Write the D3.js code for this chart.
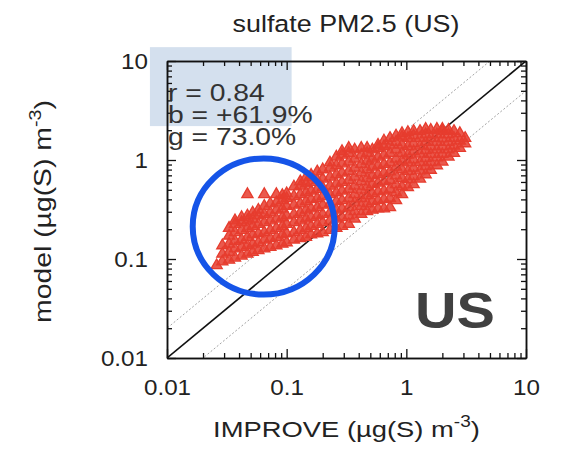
<!DOCTYPE html>
<html><head><meta charset="utf-8">
<script src="https://cdn.jsdelivr.net/npm/d3@7"></script>
<style>
body{margin:0;background:#fff}
text{font-family:"Liberation Sans",Arial,Helvetica,sans-serif}
</style>
</head><body>
<svg id="chart" width="564" height="450"></svg>
<script>
// ---------------- data ----------------
const titleText = "sulfate PM2.5 (US)";
const regionLabel = "US";
const statLabels = ["r = 0.84", "b = +61.9%", "g = 73.0%"];
const axisTicks = [0.01, 0.1, 1, 10];
const axisTickLabels = ["0.01", "0.1", "1", "10"];
// observed (IMPROVE) values, one per column of the cloud
const obsX = [0.026,0.029,0.033,0.037,0.042,0.047,0.052,0.058,0.065,0.073,0.082,0.092,0.10,0.115,0.13,0.145,0.16,0.18,0.2,0.23,0.26,0.29,0.33,0.37,0.42,0.47,0.52,0.58,0.65,0.73,0.82,0.92,1.03,1.15,1.3,1.45,1.6,1.8,2.0,2.25,2.5,2.8,3.1];
// model values found at each observed value
const modelY = [
 [0.088],
 [0.096,0.115,0.14],
 [0.1,0.12,0.145,0.175,0.21],
 [0.105,0.13,0.155,0.19,0.23,0.25],
 [0.11,0.135,0.16,0.2,0.24,0.27],
 [0.115,0.14,0.17,0.21,0.25,0.28,0.46],
 [0.12,0.145,0.18,0.22,0.26,0.3],
 [0.125,0.15,0.185,0.23,0.28,0.32],
 [0.13,0.16,0.19,0.24,0.29,0.35,0.46],
 [0.135,0.165,0.2,0.25,0.3,0.37],
 [0.14,0.17,0.21,0.26,0.32,0.38,0.46],
 [0.145,0.18,0.22,0.27,0.33,0.4,0.45],
 [0.15,0.185,0.23,0.28,0.35,0.42,0.47],
 [0.16,0.19,0.24,0.29,0.36,0.44,0.55],
 [0.165,0.2,0.25,0.3,0.37,0.46,0.56,0.62],
 [0.17,0.21,0.26,0.32,0.39,0.48,0.59,0.68],
 [0.18,0.22,0.27,0.33,0.41,0.5,0.61,0.72],
 [0.185,0.23,0.28,0.34,0.42,0.52,0.64,0.78],
 [0.19,0.24,0.29,0.36,0.44,0.54,0.66,0.82],
 [0.2,0.25,0.3,0.37,0.46,0.56,0.69,0.85,0.96],
 [0.21,0.26,0.32,0.39,0.48,0.59,0.73,0.9,1.1],
 [0.22,0.27,0.33,0.4,0.5,0.61,0.76,0.94,1.15,1.25],
 [0.23,0.28,0.34,0.42,0.52,0.64,0.79,0.98,1.2,1.35],
 [0.26,0.31,0.38,0.46,0.56,0.69,0.85,1.05,1.3],
 [0.29,0.35,0.42,0.51,0.62,0.76,0.93,1.15,1.35],
 [0.31,0.37,0.45,0.55,0.67,0.82,1.0,1.2,1.35],
 [0.32,0.39,0.47,0.58,0.71,0.87,1.05,1.3],
 [0.33,0.4,0.49,0.6,0.73,0.9,1.1,1.35,1.45],
 [0.33,0.41,0.5,0.62,0.76,0.93,1.15,1.4,1.6],
 [0.34,0.42,0.52,0.64,0.78,0.96,1.2,1.45,1.7],
 [0.4,0.48,0.58,0.71,0.87,1.05,1.3,1.55,1.8],
 [0.46,0.55,0.67,0.82,1.0,1.2,1.45,1.75,1.9],
 [0.54,0.65,0.79,0.96,1.15,1.4,1.7,1.95],
 [0.58,0.7,0.85,1.03,1.25,1.5,1.8,2.0],
 [0.66,0.8,0.97,1.18,1.42,1.7,2.0],
 [0.73,0.88,1.06,1.28,1.55,1.85,2.1],
 [0.81,0.97,1.17,1.4,1.7,2.05],
 [0.9,1.08,1.3,1.55,1.85,2.1],
 [0.98,1.17,1.4,1.68,2.0,2.1],
 [1.1,1.3,1.55,1.85,2.05],
 [1.2,1.42,1.7,2.0],
 [1.35,1.6,1.9],
 [1.5,1.7]
];
// reference lines: ratio model/obs
const refRatios = [1, 2, 0.5];

// ---------------- layout ----------------
const L = 167, R = 526, T = 61, B = 358;
const svg = d3.select("#chart");
const x = d3.scaleLog().domain([0.01, 10]).range([L, R]);
const y = d3.scaleLog().domain([0.01, 10]).range([B, T]);
const red = "#e63c2e";

svg.append("defs").append("clipPath").attr("id", "clip")
  .append("rect").attr("x", L).attr("y", T).attr("width", R - L).attr("height", B - T);

// highlight box behind statistics (data units: x 0.0072-0.11, y 2.2-13.8)
svg.append("rect")
  .attr("x", x(0.0072)).attr("y", y(13.8))
  .attr("width", x(0.11) - x(0.0072)).attr("height", y(2.2) - y(13.8))
  .attr("fill", "#d4e0ee");

const plot = svg.append("g").attr("clip-path", "url(#clip)");
// reference lines
refRatios.forEach(r => {
  plot.append("line")
    .attr("x1", x(0.001)).attr("y1", y(0.001 * r))
    .attr("x2", x(100)).attr("y2", y(100 * r))
    .attr("stroke", r === 1 ? "#111" : "#999")
    .attr("stroke-width", r === 1 ? 1.6 : 0.9)
    .attr("stroke-dasharray", r === 1 ? null : "2,2");
});

// points
const points = obsX.flatMap((xv, i) => modelY[i].map(yv => ({x: xv, y: yv})));
plot.selectAll("path.pt").data(points).join("path")
  .attr("class", "pt")
  .attr("d", "M0,-5.5L5.6,4.2L-5.6,4.2Z")
  .attr("transform", d => `translate(${x(d.x)},${y(d.y)})`)
  .attr("fill", red).attr("fill-opacity", 0.85)
  .attr("stroke", red).attr("stroke-width", 1.3);

// axes
const allTicks = x.ticks();
const minor = allTicks.filter(v => !axisTicks.some(m => Math.abs(m - v) / m < 1e-6));
const fmt = (d) => axisTickLabels[axisTicks.findIndex(m => Math.abs(m - d) / m < 1e-6)];
function axisStyle(g) {
  g.select(".domain").attr("stroke", "#111").attr("stroke-width", 1.5);
  g.selectAll(".tick line").attr("stroke", "#111").attr("stroke-width", 1.3);
  g.selectAll("text").attr("font-size", 22).attr("fill", "#222")
    .style("font-family", '"Liberation Sans",Arial,sans-serif');
}
const gB = svg.append("g").attr("transform", `translate(0,${B})`)
  .call(d3.axisBottom(x).tickValues(axisTicks).tickSize(-9).tickSizeOuter(0).tickPadding(21).tickFormat(fmt)).call(axisStyle);
svg.append("g").attr("transform", `translate(0,${B})`)
  .call(d3.axisBottom(x).tickValues(minor).tickSize(-5).tickSizeOuter(0).tickFormat("")).call(axisStyle);
svg.append("g").attr("transform", `translate(0,${T})`)
  .call(d3.axisTop(x).tickValues(axisTicks).tickSize(-9).tickSizeOuter(0).tickFormat("")).call(axisStyle);
svg.append("g").attr("transform", `translate(0,${T})`)
  .call(d3.axisTop(x).tickValues(minor).tickSize(-5).tickSizeOuter(0).tickFormat("")).call(axisStyle);
const gL = svg.append("g").attr("transform", `translate(${L},0)`)
  .call(d3.axisLeft(y).tickValues(axisTicks).tickSize(-9).tickSizeOuter(0).tickPadding(19).tickFormat(fmt)).call(axisStyle);
svg.append("g").attr("transform", `translate(${L},0)`)
  .call(d3.axisLeft(y).tickValues(minor).tickSize(-5).tickSizeOuter(0).tickFormat("")).call(axisStyle);
svg.append("g").attr("transform", `translate(${R},0)`)
  .call(d3.axisRight(y).tickValues(axisTicks).tickSize(-9).tickSizeOuter(0).tickFormat("")).call(axisStyle);
svg.append("g").attr("transform", `translate(${R},0)`)
  .call(d3.axisRight(y).tickValues(minor).tickSize(-5).tickSizeOuter(0).tickFormat("")).call(axisStyle);

// widen tick labels a little
[gB, gL].forEach(g => g.selectAll(".tick text").each(function () {
  const w = this.getComputedTextLength();
  this.setAttribute("textLength", w * 1.1);
  this.setAttribute("lengthAdjust", "spacingAndGlyphs");
}));

// helper: place text and stretch horizontally to a target width
function placeText(el, tx, ty, rot, targetW) {
  const w = el.node().getBBox().width;
  const s = targetW / w;
  el.attr("transform", `translate(${tx},${ty})${rot ? ` rotate(${rot})` : ""} scale(${s},1)`);
}

// title
const title = svg.append("text").attr("text-anchor", "middle")
  .attr("font-size", 23.5).attr("fill", "#222").text(titleText);
placeText(title, 346, 32, 0, 227);

// x title
const xt = svg.append("text").attr("text-anchor", "middle").attr("font-size", 23).attr("fill", "#222");
xt.append("tspan").text("IMPROVE (µg(S) m");
xt.append("tspan").attr("font-size", 16).attr("dy", -10).text("-3");
xt.append("tspan").attr("dy", 10).text(")");
placeText(xt, 346.5, 437, 0, 267);

// y title
const yt = svg.append("text").attr("text-anchor", "middle").attr("font-size", 23).attr("fill", "#222");
yt.append("tspan").text("model (µg(S) m");
yt.append("tspan").attr("font-size", 16).attr("dy", -10).text("-3");
yt.append("tspan").attr("dy", 10).text(")");
placeText(yt, 51, 211.5, -90, 223);

// statistics
const statBase = [101, 123, 145];
statLabels.forEach((s, i) => {
  const t = svg.append("text").attr("font-size", 23).attr("fill", "#333").text(s);
  t.attr("transform", `translate(168,${statBase[i]}) scale(1.23,1)`);
});

// region label
const us = svg.append("text").attr("text-anchor", "middle").attr("font-size", 50)
  .attr("font-weight", "bold").attr("fill", "#404040").text(regionLabel);
placeText(us, 455, 328, 0, 80);

// highlight circle (centre in data units)
svg.append("ellipse")
  .attr("cx", x(0.0643)).attr("cy", y(0.213)).attr("rx", 71).attr("ry", 68)
  .attr("fill", "none").attr("stroke", "#1554e8").attr("stroke-width", 6);
</script>
</body></html>
